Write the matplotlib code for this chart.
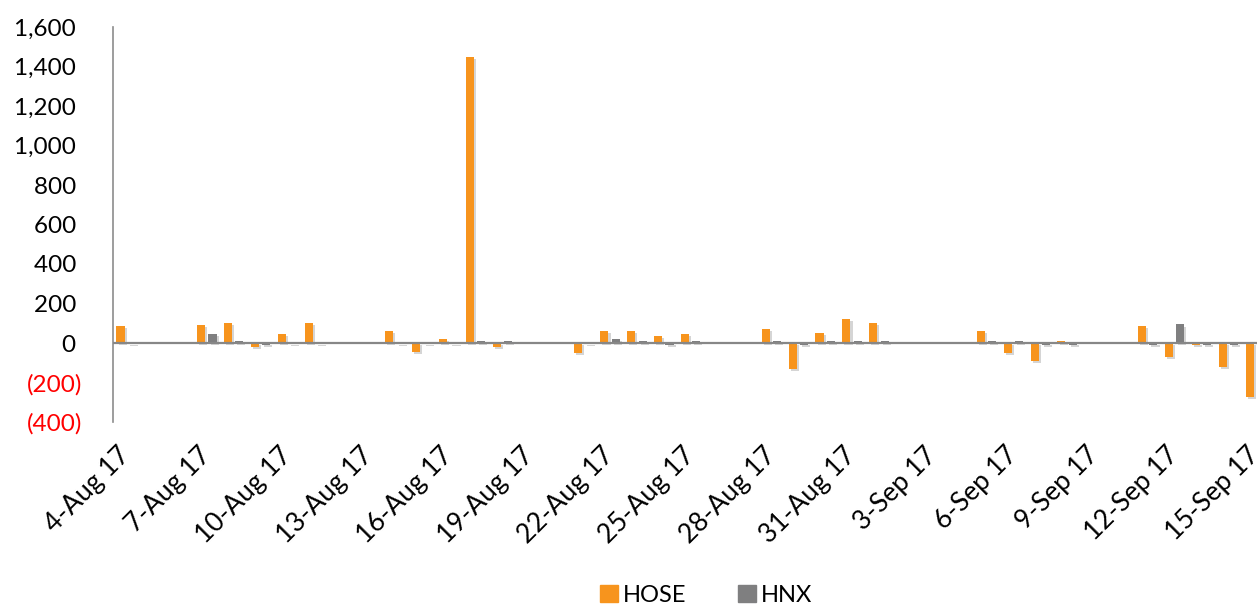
import matplotlib
matplotlib.use("Agg")
import matplotlib.pyplot as plt
import matplotlib.dates as mdates
import matplotlib.patheffects as pe
from matplotlib.ticker import FixedLocator, FuncFormatter
from matplotlib.patches import Patch
import pandas as pd

plt.rcParams['font.family'] = ['Lato', 'DejaVu Sans']

dates = ["2017-08-04",
         "2017-08-07", "2017-08-08", "2017-08-09", "2017-08-10", "2017-08-11",
         "2017-08-14", "2017-08-15", "2017-08-16", "2017-08-17", "2017-08-18",
         "2017-08-21", "2017-08-22", "2017-08-23", "2017-08-24", "2017-08-25",
         "2017-08-28", "2017-08-29", "2017-08-30", "2017-08-31", "2017-09-01",
         "2017-09-05", "2017-09-06", "2017-09-07", "2017-09-08",
         "2017-09-11", "2017-09-12", "2017-09-13", "2017-09-14", "2017-09-15"]
hose = [85,
        93, 103, -20, 44, 103,
        62, -45, 22, 1450, -20,
        -50, 62, 62, 34, 44,
        72, -133, 52, 121, 103,
        62, -50, -91, 12,
        84, -71, -10, -121, -273]
hnx = [-5,
       44, 12, -8, -5, -5,
       -5, -5, -5, 12, 10,
       -5, 22, 10, -8, 10,
       10, -8, 10, 10, 10,
       10, 10, -8, -8,
       -8, 94, -8, -8, -8]
yticks = [-400, -200, 0, 200, 400, 600, 800, 1000, 1200, 1400, 1600]
start_date = "2017-08-04"
end_date = "2017-09-15"

HOSE_C = "#F7941D"
HNX_C = "#7F7F80"

fig = plt.figure(figsize=(12.57, 6.05), dpi=100)
ax = fig.add_axes([113/1257, 1 - 422/605, 1156/1257, 395/605])

x = mdates.date2num(pd.to_datetime(dates))
w = 0.30
shadow = [pe.SimplePatchShadow(offset=(1.5, -1.5), shadow_rgbFace="#888888", alpha=0.35), pe.Normal()]
b1 = ax.bar(x - 0.22, hose, width=w, color=HOSE_C, zorder=3)
b2 = ax.bar(x + 0.20, hnx, width=w, color=HNX_C, zorder=3)
for b in list(b1) + list(b2):
    b.set_path_effects(shadow)

x0 = mdates.date2num(pd.Timestamp(start_date))
x1 = mdates.date2num(pd.Timestamp(end_date))
ax.set_xlim(x0 - 0.5, x1 + 0.5)
ax.set_ylim(-400, 1600)

ax.axhline(0, color="#878787", lw=1.6, zorder=4)

for s in ["top", "right", "bottom"]:
    ax.spines[s].set_visible(False)
ax.spines["left"].set_color("#8C8C8C")
ax.spines["left"].set_linewidth(1.2)

ax.yaxis.set_major_locator(FixedLocator(yticks))
def yfmt(v, pos):
    if v < 0:
        return "({:,.0f})".format(-v)
    return "{:,.0f} ".format(v)
ax.yaxis.set_major_formatter(FuncFormatter(yfmt))
ax.tick_params(axis="y", length=0, pad=22, labelsize=17.5)
for lbl, v in zip(ax.get_yticklabels(), yticks):
    lbl.set_color("red" if v < 0 else "black")

ax.set_xticks(mdates.drange(pd.Timestamp(start_date).to_pydatetime(),
                            pd.Timestamp(end_date).to_pydatetime() + pd.Timedelta(days=1),
                            pd.Timedelta(days=3)))
ax.xaxis.set_major_formatter(FuncFormatter(lambda v, p: mdates.num2date(v).strftime("%-d-%b %y")))
ax.tick_params(axis="x", length=0, pad=21, labelsize=19)
for lbl in ax.get_xticklabels():
    lbl.set_rotation(45)
    lbl.set_ha("right")
    lbl.set_va("center")
    lbl.set_rotation_mode("anchor")

handles = [Patch(color=HOSE_C, label="HOSE"), Patch(color=HNX_C, label="HNX")]
fig.legend(handles=handles, loc="center", bbox_to_anchor=(706/1257, 1 - 595/605),
           ncol=2, frameon=False, fontsize=17, handlelength=0.75, handleheight=0.75,
           handletextpad=0.2, columnspacing=2.2)

fig.savefig("out.png", dpi=100)
